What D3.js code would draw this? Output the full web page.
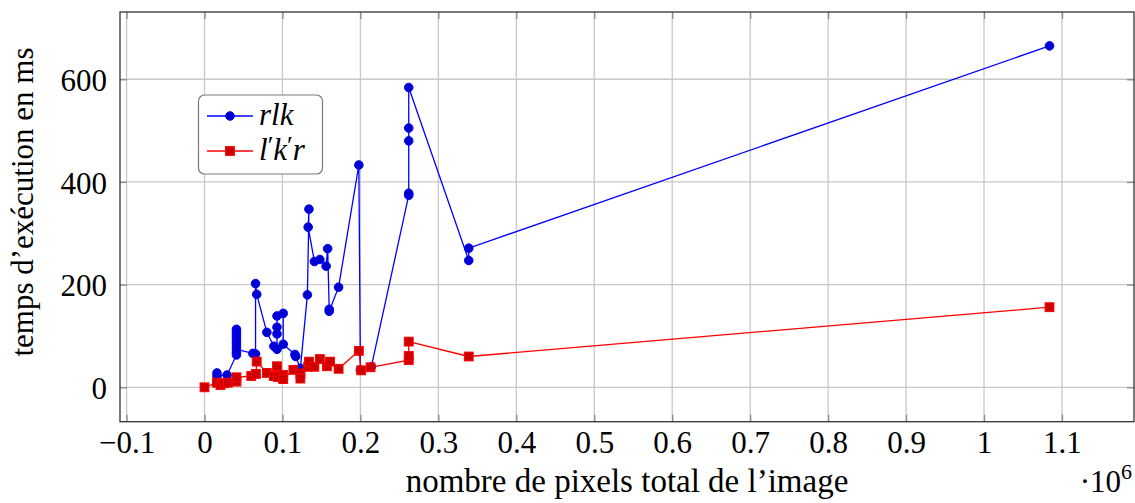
<!DOCTYPE html>
<html>
<head>
<meta charset="utf-8">
<script src="https://cdn.jsdelivr.net/npm/d3@7"></script>
<style>
  body { margin: 0; background: #fff; }
  svg text { font-family: "Liberation Serif", "DejaVu Serif", serif; fill: #000; }
</style>
</head>
<body>
<div id="chart"></div>
<script>
// data (x in millions of pixels, y in ms)
var rlkX = [0.016, 0.016, 0.029, 0.041, 0.041, 0.041, 0.041, 0.041, 0.041, 0.041, 0.041, 0.041, 0.041,
  0.062, 0.0655, 0.0655, 0.067, 0.080, 0.089, 0.093, 0.093, 0.093, 0.093, 0.101, 0.101, 0.116, 0.117,
  0.123, 0.132, 0.134, 0.133, 0.141, 0.148, 0.156, 0.158, 0.160, 0.160, 0.172, 0.198, 0.200, 0.214,
  0.262, 0.262, 0.262, 0.262, 0.262, 0.339, 0.339, 1.084];
var rlkY = [28, 22, 24, 63, 68, 113, 108, 103, 98, 92, 86, 80, 74,
  66, 65, 202, 181, 107, 80, 74, 104, 117, 139, 144, 84, 64, 60,
  37, 180, 347, 312, 245, 249, 236, 270, 152, 148, 195, 433, 34, 40,
  374, 378, 480, 505, 584, 247, 271, 665];

var lkrX = [0, 0.016, 0.0205, 0.025, 0.030, 0.041, 0.041, 0.060, 0.066, 0.067, 0.080, 0.089, 0.093, 0.094,
  0.101, 0.101, 0.114, 0.123, 0.123, 0.133, 0.134, 0.141, 0.148, 0.157, 0.161, 0.172, 0.198, 0.201,
  0.213, 0.262, 0.262, 0.262, 0.339, 1.084];
var lkrY = [0, 9, 4.5, 8, 9, 11, 19.5, 22, 26, 50, 28, 22, 41, 20,
  24, 16, 34, 27, 17, 40, 50, 40, 55, 41, 50, 36, 71, 33,
  39, 53, 61, 89, 60, 156];

var xTicks = [-0.1, 0, 0.1, 0.2, 0.3, 0.4, 0.5, 0.6, 0.7, 0.8, 0.9, 1, 1.1];
var yTicks = [0, 200, 400, 600];

var seriesNames = ["rlk", "l\u2032k\u2032r"];

(function() {
"use strict";

var W = 1135, H = 503;
var pL = 120, pR = 1134, pT = 12, pB = 421.7;

var svg = d3.select("#chart").append("svg")
  .attr("width", W)
  .attr("height", H);

var x = d3.scaleLinear().domain([-0.1084, 1.1924]).range([pL, pR]);
var y = d3.scaleLinear().domain([-67, 731]).range([pB, pT]);

// grid
svg.append("g").selectAll("line").data(xTicks).enter().append("line")
  .attr("x1", function(d) { return x(d); }).attr("x2", function(d) { return x(d); })
  .attr("y1", pT).attr("y2", pB)
  .attr("stroke", "#c8c8c8").attr("stroke-width", 1.3);
svg.append("g").selectAll("line").data(yTicks).enter().append("line")
  .attr("y1", function(d) { return y(d); }).attr("y2", function(d) { return y(d); })
  .attr("x1", pL).attr("x2", pR)
  .attr("stroke", "#c8c8c8").attr("stroke-width", 1.3);

// axes, ticks inside on all four sides
var fmtX = function(d) { return d < 0 ? "\u2212" + Math.abs(d) : String(d); };

var gx = svg.append("g").attr("transform", "translate(0," + pB + ")")
  .call(d3.axisBottom(x).tickValues(xTicks).tickSize(-7).tickPadding(14).tickFormat(fmtX));
svg.append("g").attr("transform", "translate(0," + pT + ")")
  .call(d3.axisTop(x).tickValues(xTicks).tickSize(-7).tickFormat(""));

var gy = svg.append("g").attr("transform", "translate(" + pL + ",0)")
  .call(d3.axisLeft(y).tickValues(yTicks).tickSize(-7).tickPadding(13));
svg.append("g").attr("transform", "translate(" + pR + ",0)")
  .call(d3.axisRight(y).tickValues(yTicks).tickSize(-7).tickFormat(""));

svg.selectAll(".domain").remove();
svg.selectAll(".tick line").attr("stroke", "#8a8a8a").attr("stroke-width", 1.3);
svg.selectAll(".tick text").style("font-size", "31px").attr("fill", "#000");
gx.selectAll(".tick text").attr("dy", null).attr("y", 31);
gy.selectAll(".tick text").attr("dy", "0.36em");

// frame
svg.append("rect")
  .attr("x", pL).attr("y", pT)
  .attr("width", pR - pL).attr("height", pB - pT)
  .attr("fill", "none").attr("stroke", "#333").attr("stroke-width", 1.3);

// lines and marks
var rlk = rlkX.map(function(d, i) { return [d, rlkY[i]]; });
var lkr = lkrX.map(function(d, i) { return [d, lkrY[i]]; });

var line = d3.line()
  .x(function(d) { return x(d[0]); })
  .y(function(d) { return y(d[1]); });

svg.append("path").datum(rlk).attr("d", line)
  .attr("fill", "none").attr("stroke", "#0000ff").attr("stroke-width", 1.3);
svg.append("path").datum(lkr).attr("d", line)
  .attr("fill", "none").attr("stroke", "#ff0000").attr("stroke-width", 1.3);

var mr = 4.3, ms = 8.8;

svg.append("g").selectAll("circle").data(rlk).enter().append("circle")
  .attr("cx", function(d) { return x(d[0]); })
  .attr("cy", function(d) { return y(d[1]); })
  .attr("r", mr)
  .attr("fill", "#0000cc").attr("stroke", "#0000ff").attr("stroke-width", 1);

svg.append("g").selectAll("rect").data(lkr).enter().append("rect")
  .attr("x", function(d) { return x(d[0]) - ms / 2; })
  .attr("y", function(d) { return y(d[1]) - ms / 2; })
  .attr("width", ms).attr("height", ms)
  .attr("fill", "#cc0000").attr("stroke", "#ff0000").attr("stroke-width", 1);

// legend
var lg = svg.append("g");
lg.append("rect")
  .attr("x", 198.5).attr("y", 95).attr("width", 124).attr("height", 79).attr("rx", 6)
  .attr("fill", "#fff").attr("stroke", "#7a7a7a").attr("stroke-width", 1.2);

var legY = [116, 151];
lg.append("line").attr("x1", 207).attr("x2", 253).attr("y1", legY[0]).attr("y2", legY[0])
  .attr("stroke", "#0000ff").attr("stroke-width", 1.3);
lg.append("circle").attr("cx", 230).attr("cy", legY[0]).attr("r", mr)
  .attr("fill", "#0000cc").attr("stroke", "#0000ff");
lg.append("line").attr("x1", 207).attr("x2", 253).attr("y1", legY[1]).attr("y2", legY[1])
  .attr("stroke", "#ff0000").attr("stroke-width", 1.3);
lg.append("rect").attr("x", 230 - ms / 2).attr("y", legY[1] - ms / 2).attr("width", ms).attr("height", ms)
  .attr("fill", "#cc0000").attr("stroke", "#ff0000");

// names: primes drawn raised, as in math mode
lg.selectAll("text.leg").data(seriesNames).enter().append("text")
  .attr("class", "leg")
  .attr("x", 259)
  .attr("y", function(d, i) { return legY[i] + 9; })
  .style("font-size", "31px").style("font-style", "italic")
  .each(function(d) {
    var t = d3.select(this);
    d.split("").forEach(function(ch) {
      var s = t.append("tspan").text(ch);
      if (ch === "\u2032") {
        s.attr("baseline-shift", "22%").style("font-size", "26px").style("font-style", "normal");
      }
    });
  });

// axis titles
svg.append("text")
  .attr("x", 627).attr("y", 492)
  .attr("text-anchor", "middle")
  .style("font-size", "33px")
  .text("nombre de pixels total de l\u2019image");

svg.append("text")
  .attr("transform", "translate(33,202) rotate(-90)")
  .attr("text-anchor", "middle")
  .style("font-size", "31px")
  .text("temps d\u2019ex\u00e9cution en ms");

var sc = svg.append("text")
  .attr("x", 1132).attr("y", 492)
  .attr("text-anchor", "end")
  .style("font-size", "31px");
sc.append("tspan").text("\u00b710");
sc.append("tspan").attr("dy", -13).style("font-size", "22px").text("6");

})();
</script>
</body>
</html>
